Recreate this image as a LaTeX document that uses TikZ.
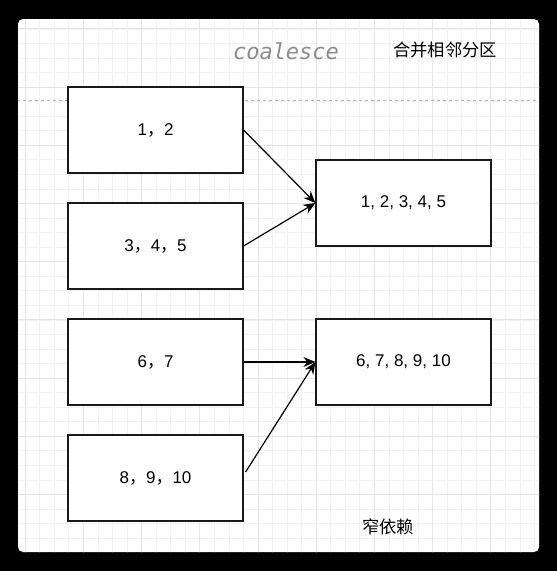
\documentclass[tikz,border=0pt]{standalone}
\usepackage{fontspec}
\setmainfont{Liberation Sans}
\newfontfamily\cjk{Noto Sans CJK SC}
\newfontfamily\codefont{DejaVu Sans Mono}
\newcommand{\fwc}{{\cjk，}}
\usetikzlibrary{arrows.meta, positioning}

\begin{document}
\begin{tikzpicture}[
  x=1pt, y=-1pt,
  node distance=28.8pt and 71.8pt,
  part/.style={draw=black!90, line width=1.2pt, fill=white, minimum width=175pt, minimum height=86pt, font=\fontsize{17}{20}\selectfont},
  arr/.style={-{Stealth[length=12pt, width=10pt]}, line width=1.2pt},
  gridminor/.style={draw=black!5, line width=0.6pt},
  gridmajor/.style={draw=black!10, line width=0.7pt},
  cnlabel/.style={font=\cjk\fontsize{17.3}{20}\selectfont}
]
  \useasboundingbox (0,0) rectangle (557,571);
  \fill[black] (0,0) rectangle (557,571);
  \fill[white, rounded corners=5pt] (18,19) rectangle (539,552);
  \begin{scope}
    \clip[rounded corners=5pt] (18,19) rectangle (539,552);
    \foreach \i [evaluate=\i as \gx using 25.1+14.55*\i] in {0,...,35}
      \draw[gridminor] (\gx,18) -- (\gx,553);
    \foreach \j [evaluate=\j as \gy using 28.8+14.55*\j] in {0,...,35}
      \draw[gridminor] (17,\gy) -- (540,\gy);
    \foreach \i [evaluate=\i as \gx using 25.1+14.55*\i] in {0,4,...,32}
      \draw[gridmajor] (\gx,18) -- (\gx,553);
    \foreach \j [evaluate=\j as \gy using 28.8+14.55*\j] in {0,4,...,32}
      \draw[gridmajor] (17,\gy) -- (540,\gy);
    \draw[black!30, line width=0.8pt, dash pattern=on 3pt off 3pt] (17,100) -- (540,100);
  \end{scope}

  % titles
  \node[font=\codefont\itshape\fontsize{22}{26}\selectfont, text=black!45] (title) at (286,51) {coalesce};
  \node[cnlabel] (titlecn) at (445,50) {合并相邻分区};

  % partitions before
  \node[part] (p12) at (155.5,130) {1\fwc 2};
  \node[part, below=of p12] (p345) {3\fwc 4\fwc 5};
  \node[part, below=of p345] (p67) {6\fwc 7};
  \node[part, below=of p67] (p8910) {8\fwc 9\fwc 10};

  % partitions after
  \node[part] (pa) at (403.5,203) {1, 2, 3, 4, 5};
  \node[part, right=of p67] (pb) {6, 7, 8, 9, 10};

  \coordinate (s8910) at ([shift={(2pt,6pt)}]p8910.east);
  \draw[arr] (p12.east) -- (pa.west);
  \draw[arr] (p345.east) -- (pa.west);
  \draw[arr] (p67.east) -- (pb.west);
  \draw[arr] (s8910) -- (pb.west);

  \node[cnlabel] (narrow) at (388,527) {窄依赖};
\end{tikzpicture}
\end{document}
